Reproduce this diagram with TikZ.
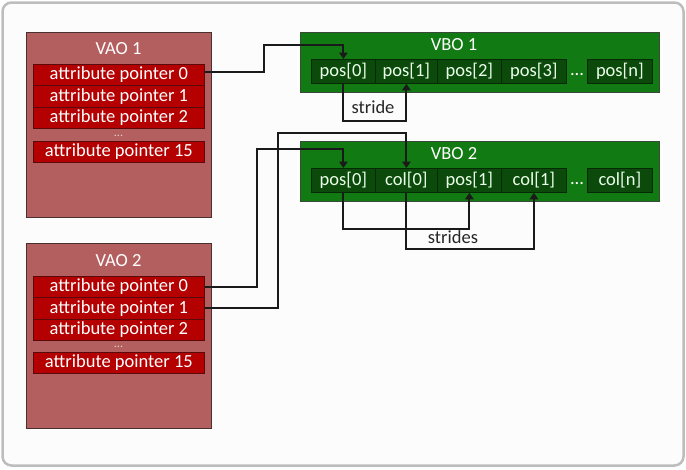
\documentclass[tikz,border=0pt]{standalone}
\usepackage{fontspec}
\setmainfont{Carlito}
\usetikzlibrary{arrows.meta}
\definecolor{vaofill}{HTML}{B45F5F}
\definecolor{vaodraw}{HTML}{4A3030}
\definecolor{rowfill}{HTML}{B40000}
\definecolor{rowdraw}{HTML}{5A0A0A}
\definecolor{vbofill}{HTML}{127A12}
\definecolor{vbodraw}{HTML}{3A4A3A}
\definecolor{cellfill}{HTML}{0B4A0B}
\definecolor{celldraw}{HTML}{062A06}
\definecolor{framecol}{HTML}{BDBDBD}
\definecolor{linecol}{HTML}{1A1A1A}
\tikzset{
  txt/.style={font=\fontsize{18.5}{19}\selectfont},
  vaobox/.style={draw=vaodraw, line width=1pt, fill=vaofill, anchor=north west, inner sep=0pt, minimum width=185pt, minimum height=185pt},
  vbobox/.style={draw=vbodraw, line width=1pt, fill=vbofill, anchor=north west, inner sep=0pt, minimum width=359pt, minimum height=60pt},
  title/.style={txt, text=white, inner sep=0pt},
  rowbox/.style={txt, text=white, draw=rowdraw, line width=0.8pt, fill=rowfill, anchor=north west, inner sep=0pt, minimum width=171pt, minimum height=21.3pt},
  cellbox/.style={txt, text=white!92!green, draw=celldraw, line width=0.8pt, fill=cellfill, anchor=north west, inner sep=0pt, minimum height=24pt},
  dotsA/.style={font=\fontsize{12}{13}\selectfont, text=white!70!vaofill, inner sep=0pt, text height=2pt, text depth=0pt, anchor=base},
  dotsB/.style={txt, text=white, inner sep=0pt},
  conn/.style={draw=linecol, line width=2pt, -{Triangle[length=6.5pt,width=8.5pt]}},
  lbl/.style={txt, text=black!85, inner sep=0pt}
}
\begin{document}
\begin{tikzpicture}[x=1pt,y=-1pt]
\useasboundingbox (0,0) rectangle (686,469);
\draw[framecol, line width=2.5pt, rounded corners=9pt, fill=white!99!black] (2.5,2.5) rectangle (683.5,465.5);

% VAO 1
\node[vaobox] (vao1) at (26,32) {};
\node[title] (vao1t) at (118.5,49) {VAO 1};
\node[rowbox] (r10) at (33,64) {attribute pointer 0};
\node[rowbox] (r11) at (33,85.3) {attribute pointer 1};
\node[rowbox] (r12) at (33,106.6) {attribute pointer 2};
\node[dotsA] (r1d) at (118.5,136.5) {...};
\node[rowbox] (r115) at (33,141) {attribute pointer 15};

% VAO 2
\node[vaobox] (vao2) at (26,243) {};
\node[title] (vao2t) at (118.5,261) {VAO 2};
\node[rowbox] (r20) at (33,276) {attribute pointer 0};
\node[rowbox] (r21) at (33,297.3) {attribute pointer 1};
\node[rowbox] (r22) at (33,318.6) {attribute pointer 2};
\node[dotsA] (r2d) at (118.5,347.5) {...};
\node[rowbox] (r215) at (33,352) {attribute pointer 15};

% VBO 1
\node[vbobox] (vbo1) at (300,32) {};
\node[title] (vbo1t) at (454,45) {VBO 1};
\node[cellbox, minimum width=64pt] (p10) at (311,59) {pos[0]};
\node[cellbox, minimum width=62pt] (p11) at (375,59) {pos[1]};
\node[cellbox, minimum width=64pt] (p12) at (437,59) {pos[2]};
\node[cellbox, minimum width=65pt] (p13) at (501,59) {pos[3]};
\node[dotsB] (p1d) at (577,75) {...};
\node[cellbox, minimum width=65pt] (p1n) at (587,59) {pos[n]};

% VBO 2
\node[vbobox] (vbo2) at (300,141) {};
\node[title] (vbo2t) at (454,154) {VBO 2};
\node[cellbox, minimum width=64pt] (q0) at (311,168) {pos[0]};
\node[cellbox, minimum width=62pt] (q1) at (375,168) {col[0]};
\node[cellbox, minimum width=64pt] (q2) at (437,168) {pos[1]};
\node[cellbox, minimum width=65pt] (q3) at (501,168) {col[1]};
\node[dotsB] (q4) at (577,184) {...};
\node[cellbox, minimum width=65pt] (qn) at (587,168) {col[n]};

% connectors
\coordinate (k1) at (264,45);
\coordinate (k2) at (257,149);
\coordinate (k3) at (278,133);
\draw[conn] ([yshift=3pt]r10.east) -| (k1) -| (p10.north);
\draw[conn] (p10.south) -- ++(0,37) -| (p11.south);
\node[lbl] (stride) at (373,107) {stride};

\draw[conn] (r20.east) -| (k2) -| (q0.north);
\draw[conn] (r21.east) -| (k3) -| (q1.north);
\draw[conn] (q0.south) -- ++(0,36) -| (q2.south);
\draw[conn] (q1.south) -- ++(0,56) -| (q3.south);
\node[lbl] (strides) at (453,237) {strides};
\end{tikzpicture}
\end{document}
